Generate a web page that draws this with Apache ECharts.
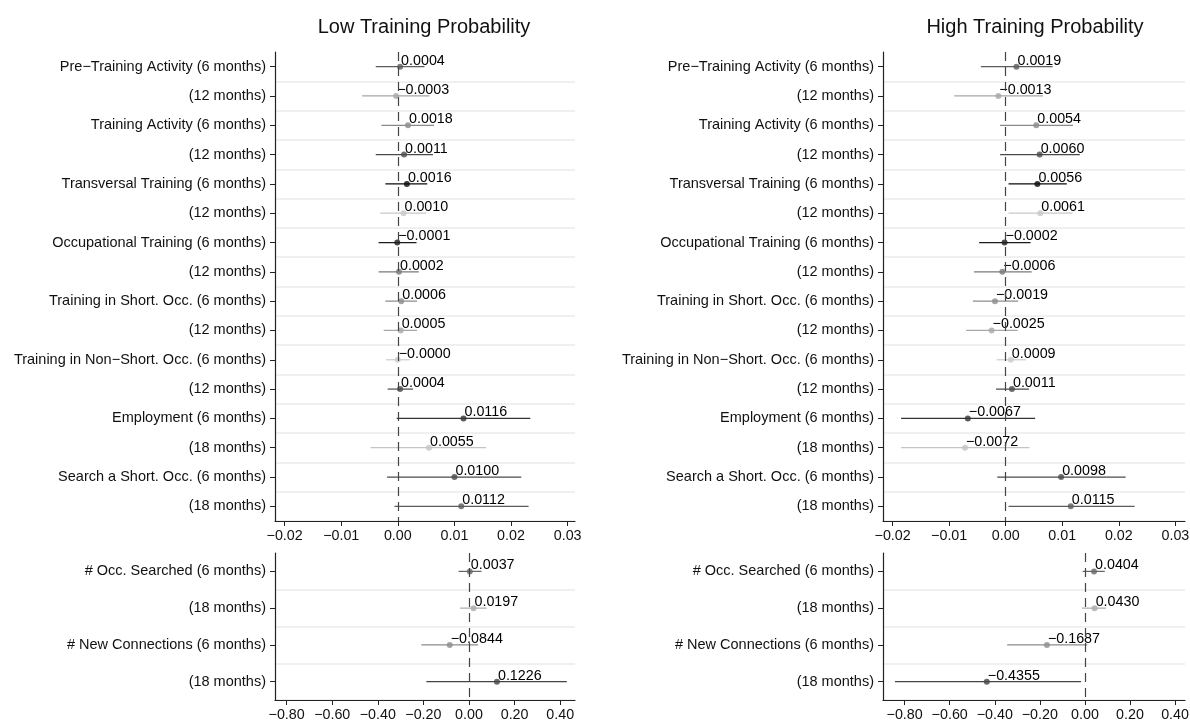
<!DOCTYPE html>
<html>
<head>
<meta charset="utf-8">
<script src="https://cdn.jsdelivr.net/npm/echarts@6/dist/echarts.min.js"></script>
<style>
  html, body { margin: 0; padding: 0; background: #fff; }
  #chart { width: 1190px; height: 722px; }
</style>
</head>
<body>
<div id="chart"></div>
<script>
// Row labels
const topLabels = [
  'Pre\u2212Training Activity (6 months)', '(12 months)',
  'Training Activity (6 months)', '(12 months)',
  'Transversal Training (6 months)', '(12 months)',
  'Occupational Training (6 months)', '(12 months)',
  'Training in Short. Occ. (6 months)', '(12 months)',
  'Training in Non\u2212Short. Occ. (6 months)', '(12 months)',
  'Employment (6 months)', '(18 months)',
  'Search a Short. Occ. (6 months)', '(18 months)'
];
const bottomLabels = [
  '# Occ. Searched (6 months)', '(18 months)',
  '# New Connections (6 months)', '(18 months)'
];

// Low training probability: point estimates and confidence bounds
const lowEst = [0.0004, -0.0003, 0.0018, 0.0011, 0.0016, 0.0010, -0.0001, 0.0002,
                0.0006, 0.0005, -0.00003, 0.0004, 0.0116, 0.0055, 0.0100, 0.0112];
const lowLo  = [-0.0039, -0.0063, -0.0029, -0.0039, -0.0022, -0.0031, -0.0034, -0.0034,
                -0.0022, -0.0025, -0.0021, -0.0018, -0.0002, -0.0048, -0.0019, -0.0006];
const lowHi  = [0.0047, 0.0056, 0.0064, 0.0062, 0.0052, 0.0050, 0.0033, 0.0037,
                0.0034, 0.0034, 0.0021, 0.0027, 0.0234, 0.0156, 0.0218, 0.0231];
const lowEstB = [0.0037, 0.0197, -0.0844, 0.1226];
const lowLoB  = [-0.046, -0.039, -0.209, -0.187];
const lowHiB  = [0.055, 0.077, 0.040, 0.429];

// High training probability: point estimates and confidence bounds
const highEst = [0.0019, -0.0013, 0.0054, 0.0060, 0.0056, 0.0061, -0.0002, -0.0006,
                 -0.0019, -0.0025, 0.0009, 0.0011, -0.0067, -0.0072, 0.0098, 0.0115];
const highLo  = [-0.0044, -0.0091, -0.0010, -0.0010, 0.0005, 0.0005, -0.0047, -0.0056,
                 -0.0058, -0.0070, -0.0016, -0.0017, -0.0185, -0.0185, -0.0015, 0.0005];
const highHi  = [0.0083, 0.0066, 0.0119, 0.0131, 0.0108, 0.0118, 0.0044, 0.0046,
                 0.0022, 0.0021, 0.0036, 0.0041, 0.0052, 0.0042, 0.0212, 0.0228];
const highEstB = [0.0404, 0.0430, -0.1687, -0.4355];
const highLoB  = [-0.010, -0.013, -0.345, -0.843];
const highHiB  = [0.088, 0.094, 0.011, -0.017];

// Axis tick values
const topTicks = [-0.02, -0.01, 0.00, 0.01, 0.02, 0.03];
const bottomTicks = [-0.80, -0.60, -0.40, -0.20, 0.00, 0.20, 0.40];

// Marker shades per row
const topShades = ['#5c5c5c', '#a6a6a6', '#8a8a8a', '#4a4a4a', '#0a0a0a', '#c8c8c8', '#1c1c1c', '#7a7a7a',
                   '#8c8c8c', '#a8a8a8', '#cccccc', '#4a4a4a', '#333333', '#c4c4c4', '#4a4a4a', '#5c5c5c'];
const bottomShades = ['#666666', '#ababab', '#8c8c8c', '#444444'];

const FONT = '"Liberation Sans", Arial, Helvetica, sans-serif';
const minus = s => s.replace(/-/g, '\u2212');
const fmt4 = v => minus(v.toFixed(4));
const fmt2 = v => minus(v.toFixed(2));

const panels = [
  { grid: { left: 275, top: 52, width: 300, height: 469 }, labels: topLabels, ticks: topTicks,
    min: -0.0217, max: 0.0313, est: lowEst, lo: lowLo, hi: lowHi, shades: topShades },
  { grid: { left: 883, top: 52, width: 302, height: 469 }, labels: topLabels, ticks: topTicks,
    min: -0.0217, max: 0.0317, est: highEst, lo: highLo, hi: highHi, shades: topShades },
  { grid: { left: 275, top: 553, width: 300, height: 147 }, labels: bottomLabels, ticks: bottomTicks,
    min: -0.851, max: 0.465, est: lowEstB, lo: lowLoB, hi: lowHiB, shades: bottomShades },
  { grid: { left: 883, top: 553, width: 302, height: 147 }, labels: bottomLabels, ticks: bottomTicks,
    min: -0.896, max: 0.444, est: highEstB, lo: highLoB, hi: highHiB, shades: bottomShades }
];

const grids = [], xAxes = [], yAxes = [], series = [];
panels.forEach((p, k) => {
  grids.push(Object.assign({ outerBoundsMode: 'none', containLabel: false }, p.grid));
  xAxes.push({
    type: 'value', gridIndex: k, min: p.min, max: p.max,
    splitLine: { show: false },
    axisLine: { show: true, onZero: false, lineStyle: { color: '#222', width: 1.2 } },
    axisTick: { show: true, length: 5, customValues: p.ticks, lineStyle: { color: '#222', width: 1 } },
    axisLabel: { customValues: p.ticks, formatter: v => fmt2(v), fontFamily: FONT, fontSize: 14.3,
                 color: '#111', margin: 8 }
  });
  yAxes.push({
    type: 'category', gridIndex: k, data: p.labels, inverse: true, boundaryGap: true,
    axisLine: { show: true, onZero: false, lineStyle: { color: '#222', width: 1.2 } },
    axisTick: { show: true, alignWithLabel: true, length: 5, lineStyle: { color: '#222', width: 1 } },
    axisLabel: { interval: 0, fontFamily: FONT, fontSize: 14.5, color: '#111', margin: 9 },
    splitLine: { show: true, interval: (i) => i !== 0, lineStyle: { color: '#ebebeb', width: 1.6 } }
  });
  // confidence intervals
  series.push({
    type: 'custom', xAxisIndex: k, yAxisIndex: k, silent: true, z: 2,
    encode: { x: [0, 1], y: 2 },
    data: p.est.map((_, i) => ({ value: [p.lo[i], p.hi[i], i], itemStyle: { color: p.shades[i] } })),
    renderItem: (params, api) => {
      const a = api.coord([api.value(0), api.value(2)]);
      const b = api.coord([api.value(1), api.value(2)]);
      return { type: 'line', shape: { x1: a[0], y1: a[1], x2: b[0], y2: b[1] },
               style: { stroke: api.visual('color'), lineWidth: 1.2 } };
    }
  });
  // point estimates with value labels, and the zero reference line
  series.push({
    type: 'scatter', xAxisIndex: k, yAxisIndex: k, symbol: 'circle', symbolSize: 6, z: 3,
    data: p.est.map((v, i) => ({ value: [v, i], itemStyle: { color: p.shades[i] } })),
    label: {
      show: true, position: [4, 4], align: 'left', verticalAlign: 'bottom',
      formatter: d => fmt4(d.value[0]), fontFamily: FONT, fontSize: 14.3,
      color: '#000', textBorderWidth: 0, opacity: 1
    },
    markLine: {
      silent: true, symbol: 'none', animation: false,
      label: { show: false },
      lineStyle: { color: '#444', width: 1.2, type: [9, 6] },
      data: [{ xAxis: 0 }]
    }
  });
});

const chart = echarts.init(document.getElementById('chart'), null, { renderer: 'canvas' });
chart.setOption({
  animation: false,
  backgroundColor: '#ffffff',
  title: [
    { text: 'Low Training Probability', left: 419, top: 12, textAlign: 'center',
      textStyle: { fontFamily: FONT, fontSize: 20, fontWeight: 'normal', color: '#111' } },
    { text: 'High Training Probability', left: 1030, top: 12, textAlign: 'center',
      textStyle: { fontFamily: FONT, fontSize: 20, fontWeight: 'normal', color: '#111' } }
  ],
  grid: grids,
  xAxis: xAxes,
  yAxis: yAxes,
  series: series
});
</script>
</body>
</html>
